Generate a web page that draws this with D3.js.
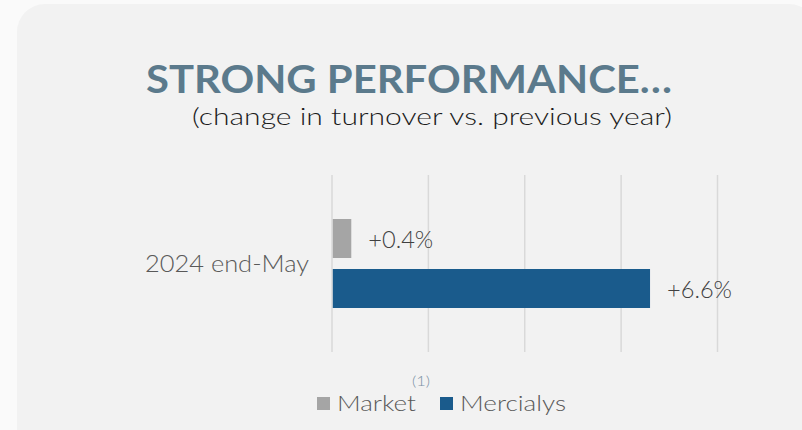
<!DOCTYPE html>
<html>
<head>
<meta charset="utf-8">
<script src="https://cdn.jsdelivr.net/npm/d3@7"></script>
<style>
  html, body { margin: 0; padding: 0; background: #fafafa; }
  svg { display: block; }
  text { font-family: "Lato", "DejaVu Sans", sans-serif; }
  .light { font-weight: 300; }
</style>
</head>
<body>
<svg id="chart" width="802" height="430"></svg>
<script>
// ---- data ----
const categories = ["2024 end-May"];
const seriesNames = ["Market", "Mercialys"];
const seriesValues = [0.4, 6.6];          // % change in turnover
const valueLabels = ["+0.4%", "+6.6%"];
const xTicks = [0, 2, 4, 6, 8];
const seriesColors = ["#a5a5a5", "#1a5b8c"];
const title = "STRONG PERFORMANCE\u2026";
const subtitle = "(change in turnover vs. previous year)";
const footnote = "(1)";

const svg = d3.select("#chart");

// card
svg.append("rect")
  .attr("x", 17).attr("y", 4).attr("width", 800).attr("height", 470)
  .attr("rx", 28).attr("ry", 28)
  .attr("fill", "#f2f2f2");

// title
svg.append("text")
  .attr("x", 146).attr("y", 92.7)
  .attr("font-size", 39).attr("font-weight", 700)
  .attr("fill", "#5b7a8c")
  .attr("textLength", 526).attr("lengthAdjust", "spacingAndGlyphs")
  .text(title);

svg.append("text")
  .attr("class", "light")
  .attr("x", 192).attr("y", 125)
  .attr("font-size", 24)
  .attr("fill", "#1c1c1c")
  .attr("textLength", 480).attr("lengthAdjust", "spacingAndGlyphs")
  .text(subtitle);

// scales
const x = d3.scaleLinear().domain([0, 8]).range([332, 717.5]);
const y0 = d3.scaleBand().domain(categories).range([175, 352]);
const y1 = d3.scaleBand().domain(seriesNames).range([0, y0.bandwidth()])
  .paddingInner(0.22).paddingOuter(0.88);

// gridlines
const grid = svg.append("g").attr("class", "grid");
grid.selectAll("line").data(xTicks).join("line")
  .attr("x1", d => x(d)).attr("x2", d => x(d))
  .attr("y1", y0.range()[0]).attr("y2", y0.range()[1])
  .attr("stroke", "#d9d9d9").attr("stroke-width", 1.5);

// category axis labels
svg.append("g").selectAll("text").data(categories).join("text")
  .attr("class", "light")
  .attr("x", x(0) - 23)
  .attr("y", d => y0(d) + y0.bandwidth() / 2 + 8.8)
  .attr("text-anchor", "end")
  .attr("font-size", 23)
  .attr("fill", "#595959")
  .attr("textLength", 164).attr("lengthAdjust", "spacingAndGlyphs")
  .text(d => d);

// bars
const rows = seriesNames.map((s, i) => ({ s, v: seriesValues[i], label: valueLabels[i], color: seriesColors[i] }));
const g = svg.append("g").attr("transform", `translate(0,${y0(categories[0])})`);
g.selectAll("rect").data(rows).join("rect")
  .attr("x", x(0) + 0.8)
  .attr("y", d => y1(d.s))
  .attr("width", d => x(d.v) - x(0) - 0.8)
  .attr("height", y1.bandwidth())
  .attr("fill", d => d.color);

g.selectAll("text").data(rows).join("text")
  .attr("class", "light")
  .attr("x", d => x(d.v) + 17)
  .attr("y", d => y1(d.s) + y1.bandwidth() / 2 + 9.8)
  .attr("font-size", 23)
  .attr("fill", "#404040")
  .attr("textLength", 65).attr("lengthAdjust", "spacingAndGlyphs")
  .text(d => d.label);

// legend
const legendItems = [
  { name: seriesNames[0], color: seriesColors[0], sx: 317, tx: 337, tw: 79 },
  { name: seriesNames[1], color: seriesColors[1], sx: 440, tx: 460, tw: 106 }
];
const lg = svg.append("g");
lg.selectAll("rect").data(legendItems).join("rect")
  .attr("x", d => d.sx).attr("y", 397).attr("width", 13).attr("height", 13)
  .attr("fill", d => d.color);
lg.selectAll("text").data(legendItems).join("text")
  .attr("class", "light")
  .attr("x", d => d.tx).attr("y", 410.5)
  .attr("font-size", 21.5)
  .attr("fill", "#595959")
  .attr("textLength", d => d.tw).attr("lengthAdjust", "spacingAndGlyphs")
  .text(d => d.name);

svg.append("text")
  .attr("class", "light")
  .attr("x", 412).attr("y", 385.5)
  .attr("font-size", 14)
  .attr("fill", "#7d93a6")
  .attr("textLength", 18).attr("lengthAdjust", "spacingAndGlyphs")
  .text(footnote);
</script>
</body>
</html>
